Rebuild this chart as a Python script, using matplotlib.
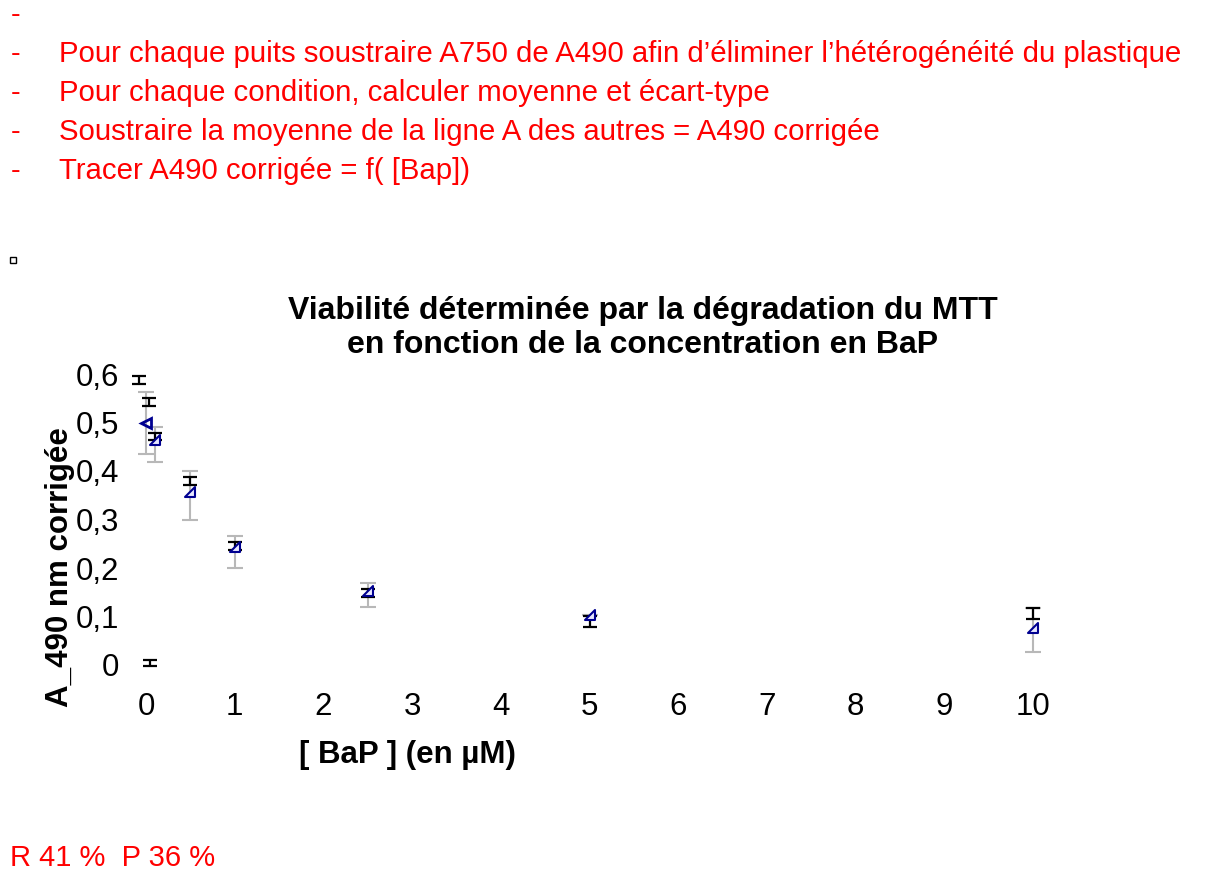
import matplotlib
matplotlib.use("Agg")
import matplotlib.pyplot as plt
from matplotlib.patches import Rectangle
from matplotlib.path import Path

plt.rcParams['font.family'] = ['Liberation Sans', 'DejaVu Sans']

# ---- data ----
notes = [
    "",
    "Pour chaque puits soustraire A750 de A490 afin d\u2019\u00e9liminer l\u2019h\u00e9t\u00e9rog\u00e9n\u00e9it\u00e9 du plastique",
    "Pour chaque condition, calculer moyenne et \u00e9cart-type",
    "Soustraire la moyenne de la ligne A des autres = A490 corrig\u00e9e",
    "Tracer A490 corrig\u00e9e = f( [Bap])",
]
footer = "R 41 %  P 36 %"
title = "Viabilit\u00e9 d\u00e9termin\u00e9e par la d\u00e9gradation du MTT\nen fonction de la concentration en BaP"
xlabel = "[ BaP ] (en \u00b5M)"
ylabel = "A_490 nm corrig\u00e9e"

# series with gray error bars and blue markers
conc_a = [0, 0.1, 0.5, 1, 2.5, 5, 10]
mean_a = [0.500, 0.464, 0.357, 0.243, 0.153, 0.103, 0.076]
err_a_low = [0.065, 0.045, 0.058, 0.043, 0.033, 0.0, 0.049]
err_a_high = [0.063, 0.027, 0.043, 0.023, 0.016, 0.0, 0.041]

# series with small black error bars
conc_b = [-0.08, 0.03, 0.1, 0.5, 1, 2.5, 5, 10, 0.05]
mean_b = [0.588, 0.542, 0.471, 0.380, 0.245, 0.148, 0.090, 0.106, 0.004]
err_b = [0.008, 0.008, 0.007, 0.008, 0.008, 0.008, 0.012, 0.011, 0.006]

xticks = [0, 1, 2, 3, 4, 5, 6, 7, 8, 9, 10]
yticks = [0, 0.1, 0.2, 0.3, 0.4, 0.5, 0.6]
yticklabels = ["0", "0,1", "0,2", "0,3", "0,4", "0,5", "0,6"]

W, H = 1223, 874
fig = plt.figure(figsize=(W / 100, H / 100), dpi=100)

def fx(px):
    return px / W

def fy(py):
    return 1 - py / H

red = "#ff0000"
for i, line in enumerate(notes):
    y = fy(15 + 39 * i)
    fig.text(fx(11), y, "-", color=red, fontsize=21, va="center", ha="left")
    fig.text(fx(59), y, line, color=red, fontsize=21.2, va="center", ha="left")

fig.text(fx(10), fy(858), footer, color=red, fontsize=21, va="center", ha="left")

fig.patches.append(Rectangle((fx(10), fy(263)), 6 / W, 6 / H, fill=False,
                             edgecolor="black", linewidth=1, transform=fig.transFigure))

fig.text(fx(643), fy(328), title, fontsize=23, fontweight="bold", ha="center",
         va="center", linespacing=1.2)
fig.text(fx(407), fy(755), xlabel, fontsize=22.5, fontweight="bold", ha="center", va="center")
fig.text(fx(60), fy(567), ylabel, fontsize=22.5, fontweight="bold", ha="center",
         va="center", rotation=90)

ax = fig.add_axes([fx(146), fy(665), (1033 - 146) / W, (665 - 374) / H])
ax.set_xlim(0, 10)
ax.set_ylim(0, 0.6)
for s in ax.spines.values():
    s.set_visible(False)
ax.set_xticks(xticks)
ax.set_xticklabels([str(t) for t in xticks])
ax.set_yticks(yticks)
ax.set_yticklabels(yticklabels)
ax.tick_params(axis="both", length=0, labelsize=22.5)
ax.tick_params(axis="y", pad=19.5)
ax.tick_params(axis="x", pad=19.5)

ax.errorbar(conc_a, mean_a, yerr=[err_a_low, err_a_high], fmt="none",
            ecolor="#b8b8b8", elinewidth=1.5, capsize=6, capthick=1.5,
            clip_on=False, zorder=2)
ax.errorbar(conc_b, mean_b, yerr=err_b, fmt="none", ecolor="black",
            elinewidth=1.6, capsize=5, capthick=1.6, clip_on=False, zorder=3)

tri = Path([(-1, -1), (1, -1), (1, 1), (-1, -1)],
           [Path.MOVETO, Path.LINETO, Path.LINETO, Path.CLOSEPOLY])
ax.plot(conc_a[1:], mean_a[1:], linestyle="none", marker=tri, markersize=7,
        markerfacecolor="#e8e8ff", markeredgecolor="#000090", markeredgewidth=1.5,
        clip_on=False, zorder=4)
ax.plot(conc_a[:1], mean_a[:1], linestyle="none", marker="<", markersize=7,
        markerfacecolor="none", markeredgecolor="#000090", markeredgewidth=2,
        clip_on=False, zorder=4)

fig.savefig("out.png", dpi=100)
